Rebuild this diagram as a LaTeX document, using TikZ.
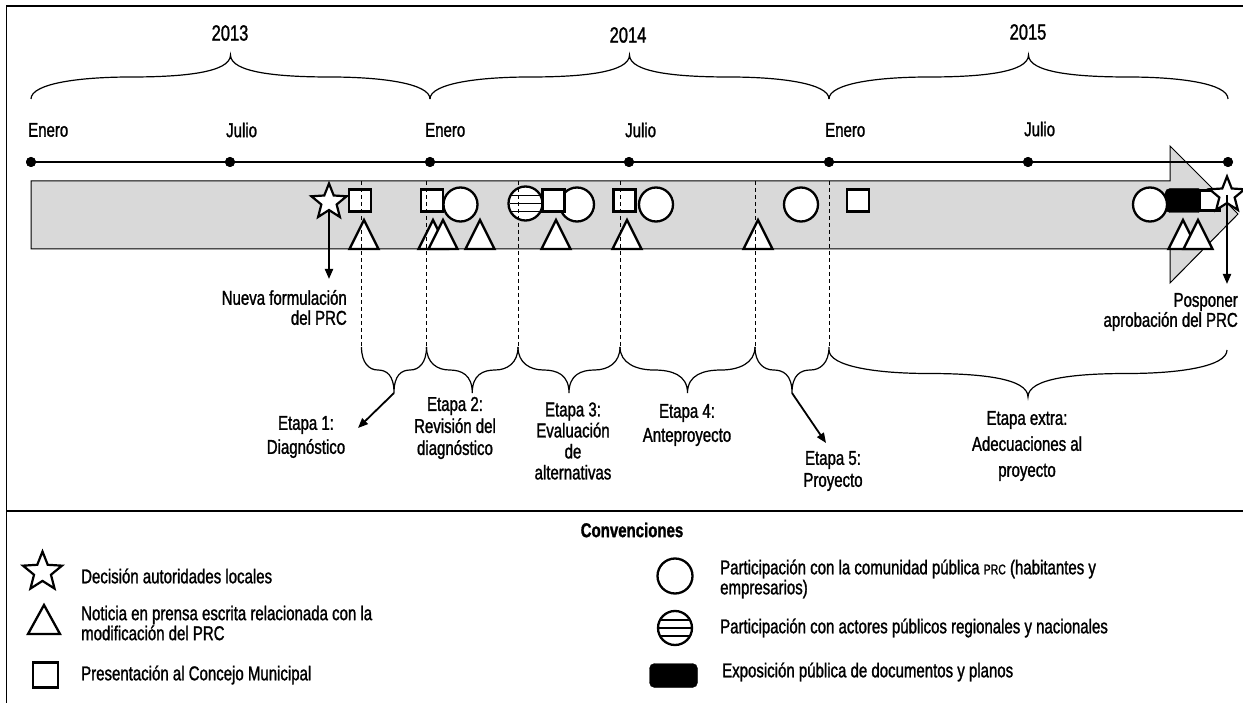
\documentclass[tikz,border=0pt]{standalone}
\usepackage{fontspec}
\setmainfont{Liberation Sans}[FakeStretch=0.75, FakeBold=1.3]
\usetikzlibrary{shapes.geometric,arrows.meta}
\definecolor{bandgray}{RGB}{217,217,217}
\tikzset{
  lbl/.style={font=\fontsize{20}{22}\selectfont, inner sep=0pt},
  yearlbl/.style={font=\fontsize{22}{24}\selectfont, inner sep=0pt},
  frameline/.style={line width=1.3pt},
  bandshape/.style={fill=bandgray, draw=black, line width=1pt},
  tline/.style={line width=2.5pt},
  tdot/.style={circle, fill=black, minimum size=10pt, inner sep=0pt},
  sqbox/.style={draw, fill=white, line width=2.3pt, minimum size=22pt, inner sep=0pt},
  circbox/.style={draw, circle, fill=white, line width=2.3pt, minimum size=34pt, inner sep=0pt},
  starbox/.style={draw, star, star points=5, star point ratio=2.3, fill=white, line width=2.2pt, minimum size=37pt, inner sep=0pt},
  tristyle/.style={draw, fill=white, line width=2.3pt},
  dashline/.style={line width=0.9pt, dash pattern=on 4pt off 3pt},
  brc/.style={line width=1.2pt},
  arr/.style={line width=2pt, -{Triangle[length=10pt,width=8pt]}},
  expo/.style={fill=black, draw=black, rounded corners=5pt, minimum width=38pt, minimum height=24pt, inner sep=0pt},
}
\newcommand{\cbrace}[4]{%
 \draw[brc] (#1,#3) .. controls (#1,{#3+0.35*(#4)}) and ({#1+0.12*(#2-#1)},{#3+0.5*(#4)}) .. ({#1+0.25*(#2-#1)},{#3+0.5*(#4)})
 .. controls ({#1+0.38*(#2-#1)},{#3+0.5*(#4)}) and ({0.5*(#1+#2)},{#3+0.6*(#4)}) .. ({0.5*(#1+#2)},{#3+(#4)})
 .. controls ({0.5*(#1+#2)},{#3+0.6*(#4)}) and ({#2-0.38*(#2-#1)},{#3+0.5*(#4)}) .. ({#2-0.25*(#2-#1)},{#3+0.5*(#4)})
 .. controls ({#2-0.12*(#2-#1)},{#3+0.5*(#4)}) and (#2,{#3+0.35*(#4)}) .. (#2,#3);}
\newcommand{\trimark}[1]{\draw[tristyle] ({#1-14.5},249) -- (#1,220) -- ({#1+14.5},249) -- cycle;}
\newcommand{\stripes}[3]{%
 \begin{scope}
 \clip (#1,#2) circle (#3);
 \draw[line width=1.6pt] ({#1-#3},{#2-8}) -- ({#1+#3},{#2-8});
 \draw[line width=1.6pt] ({#1-#3},{#2}) -- ({#1+#3},{#2});
 \draw[line width=1.6pt] ({#1-#3},{#2+8}) -- ({#1+#3},{#2+8});
 \end{scope}}
\begin{document}
\begin{tikzpicture}[x=1pt,y=-1pt]
\useasboundingbox (0,0) rectangle (1243,703);
% frame
\draw[frameline] (6.5,703) -- (6.5,6) -- (1243,6);
\draw[frameline] (6.5,511) -- (1243,511);
% years
\node[yearlbl] (y13) at (230,33) {2013};
\node[yearlbl] (y14) at (628,35) {2014};
\node[yearlbl] (y15) at (1028,32) {2015};
\cbrace{31}{430}{99}{-44}
\cbrace{430}{829}{99}{-44}
\cbrace{829}{1228}{99}{-44}
% months
\node[lbl, anchor=west] (m1) at (28,130) {Enero};
\node[lbl, anchor=west] (m2) at (226,130) {Julio};
\node[lbl, anchor=west] (m3) at (425,130) {Enero};
\node[lbl, anchor=west] (m4) at (625,130) {Julio};
\node[lbl, anchor=west] (m5) at (825,130) {Enero};
\node[lbl, anchor=west] (m6) at (1024,129) {Julio};
% band arrow
\draw[bandshape] (31,181) -- (1170,181) -- (1170,146) -- (1238,214) -- (1170,283) -- (1170,249) -- (31,249) -- cycle;
% timeline
\node[tdot] (d1) at (31,162) {};
\node[tdot] (d2) at (230,162) {};
\node[tdot] (d3) at (430,162) {};
\node[tdot] (d4) at (629,162) {};
\node[tdot] (d5) at (829,162) {};
\node[tdot] (d6) at (1028,162) {};
\node[tdot] (d7) at (1228,162) {};
\draw[tline] (d1.center) -- (d7.center);
\foreach \d in {d1,d2,d3,d4,d5,d6,d7} {\fill (\d) circle (5);}
% events
\coordinate (s1c) at (329,202);
\coordinate (n1) at (329,279);
\draw[arr] (s1c) -- (n1);
\node[starbox] (s1) at (s1c) {};
\node[sqbox] (q1) at (360,200.5) {};
\node[sqbox] (q2) at (432,200.5) {};
\node[circbox] (c1) at (460.5,204.5) {};
\node[circbox] (h1) at (525.5,203.5) {};
\stripes{525.5}{203.5}{16}
\node[circbox] (c2) at (577,204.5) {};
\node[sqbox] (q3) at (553.5,200.5) {};
\node[sqbox] (q4) at (624.5,200.5) {};
\node[circbox] (c3) at (656,204.5) {};
\node[circbox] (c4) at (801,204.5) {};
\node[sqbox] (q5) at (858,200.5) {};
\node[expo] (x1) at (1184,200.5) {};
\node[circbox] (c5) at (1150,204.5) {};
\node[sqbox, minimum size=20pt] (q6) at (1210,200.5) {};
\trimark{364}
\trimark{433}
\trimark{443}
\trimark{480}
\trimark{556}
\trimark{627}
\trimark{758}
\trimark{1183}
\trimark{1198}
\coordinate (s2c) at (1227,195);
\coordinate (n2) at (1227,284);
\node[starbox] (s2) at (s2c) {};
\draw[arr] (s2c) -- (n2);
% dashed lines
\foreach \xx in {361.5,426.5,518,620,755,829} {\draw[dashline] (\xx,181) -- (\xx,347);}
% labels near arrows
\node[lbl, font=\fontsize{20}{20}\selectfont, anchor=east, align=right] (lnueva) at (347,307.5) {Nueva formulación\\del PRC};
\node[lbl, font=\fontsize{20}{20}\selectfont, anchor=east, align=right] (lposp) at (1238,312) {Posponer\\aprobación del PRC};
% lower braces
\cbrace{361.5}{426.5}{347}{46}
\cbrace{426.5}{518}{347}{46}
\cbrace{518}{620}{347}{46}
\cbrace{620}{755}{347}{46}
\cbrace{755}{829}{347}{46}
\cbrace{829}{1227}{350}{47}
\node[lbl, font=\fontsize{20}{24}\selectfont, align=center] (e1) at (306,437) {Etapa 1:\\Diagnóstico};
\node[lbl, font=\fontsize{20}{22}\selectfont, align=center] (e2) at (455,428) {Etapa 2:\\Revisión del\\diagnóstico};
\node[lbl, font=\fontsize{20}{21}\selectfont, align=center] (e3) at (573,441) {Etapa 3:\\Evaluación\\de\\alternativas};
\node[lbl, font=\fontsize{20}{24}\selectfont, align=center] (e4) at (687,425) {Etapa 4:\\Anteproyecto};
\node[lbl, font=\fontsize{20}{22}\selectfont, align=center] (e5) at (833,471) {Etapa 5:\\Proyecto};
\node[lbl, font=\fontsize{20}{26}\selectfont, align=center] (ex) at (1027,446) {Etapa extra:\\Adecuaciones al\\proyecto};
\coordinate (b1tip) at (394,393);
\coordinate (a1) at (358,428);
\draw[arr, line width=1.8pt] (b1tip) -- (a1);
\coordinate (b5tip) at (792,393);
\coordinate (a5) at (826,443);
\draw[arr, line width=1.8pt] (b5tip) -- (a5);
% legend
\node[lbl, font=\bfseries\fontsize{20}{22}\selectfont] (conv) at (632,530) {Convenciones};
\node[starbox, minimum size=41pt] (ls) at (42.5,572) {};
\node[lbl, anchor=west] (lst) at (81,576) {Decisión autoridades locales};
\draw[tristyle] (28,634) -- (44,605) -- (60,634) -- cycle;
\coordinate (lt) at (44,619);
\node[lbl, font=\fontsize{20}{20}\selectfont, anchor=west, align=left] (ltt) at (81,623) {Noticia en prensa escrita relacionada con la\\modificación del PRC};
\node[sqbox, minimum size=25pt] (lq) at (45.5,675) {};
\node[lbl, anchor=west] (lqt) at (81,675) {Presentación al Concejo Municipal};
\node[circbox, minimum size=35pt] (lc) at (675,576) {};
\node[lbl, font=\fontsize{20}{20}\selectfont, anchor=west, align=left] (lct) at (720,579) {Participación con la comunidad pública {\fontsize{14}{14}\selectfont PRC} (habitantes y\\empresarios)};
\node[circbox, minimum size=34pt] (lh) at (675,628) {};
\stripes{675}{628}{16}
\node[lbl, anchor=west] (lht) at (720,628) {Participación con actores públicos regionales y nacionales};
\node[expo, minimum width=48pt, minimum height=24pt] (lx) at (673.5,675.5) {};
\node[lbl, anchor=west] (lxt) at (722,672) {Exposición pública de documentos y planos};
\end{tikzpicture}
\end{document}
